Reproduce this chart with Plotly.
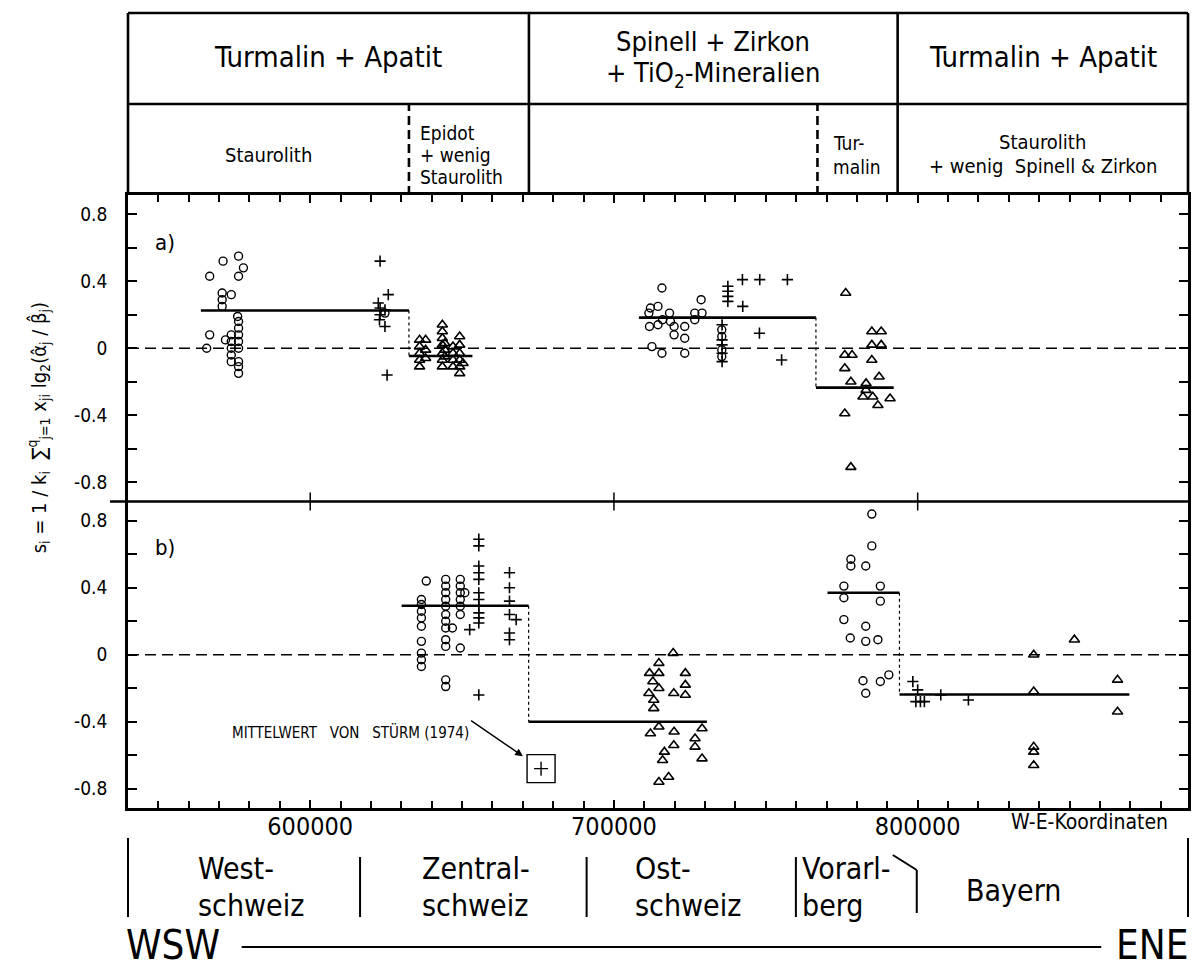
import plotly.graph_objects as go

# ---------------- data ----------------
X_RANGE = [540000, 889000]
Y_LIM = 0.915

# panel a
a_circ_x = [565900, 566900, 566900, 571300, 576400, 578000, 576400, 571000, 574000, 571000, 571000,
            576100, 576400, 576400, 576400, 574000, 572100, 576400, 574000, 574000, 576400, 574000,
            574000, 576400, 576400, 576400, 624600,
            715800, 728700, 712000, 714500, 711500, 718300, 726600, 729000, 716000, 718600, 726600,
            711700, 714500, 719800, 723300, 719800, 723300, 712500, 715800, 723300, 735500, 735500,
            735500, 735500]
a_circ_y = [0.00, 0.08, 0.43, 0.52, 0.55, 0.48, 0.43, 0.33, 0.32, 0.29, 0.25,
            0.19, 0.16, 0.12, 0.08, 0.08, 0.05, 0.04, 0.04, 0.00, 0.00, -0.04,
            -0.08, -0.08, -0.11, -0.15, 0.21,
            0.36, 0.29, 0.24, 0.25, 0.21, 0.21, 0.21, 0.21, 0.17, 0.16, 0.17,
            0.13, 0.14, 0.13, 0.13, 0.08, 0.06, 0.01, -0.03, -0.03, 0.11, 0.07,
            -0.01, -0.05]

a_plus_x = [623000, 625700, 622400, 623000, 624600, 623000, 622800, 624600, 625300,
            737500, 737500, 737500, 737500, 742300, 748000, 757100, 742400, 747900, 755200,
            735600, 735600, 735600, 735600, 735600]
a_plus_y = [0.52, 0.32, 0.27, 0.24, 0.23, 0.20, 0.17, 0.13, -0.16,
            0.37, 0.34, 0.31, 0.28, 0.41, 0.41, 0.41, 0.25, 0.09, -0.07,
            0.14, 0.05, 0.02, -0.03, -0.08]

a_tri_x = [636000, 636000, 636000, 636000, 636000,
           638000, 638000, 638000,
           643500, 643500, 643500, 643500, 643500, 643500, 643500,
           644300, 644300, 644300,
           647000, 647000, 647000, 647000,
           649200, 649200, 649200, 649200, 649200, 649200,
           650300,
           776300, 776000, 778400, 776000, 778000, 776000, 778000, 784900, 788000, 784900,
           788000, 784900, 787300, 783000, 783000, 782000, 785200, 786900, 790900]
a_tri_y = [0.05, 0.01, -0.03, -0.07, -0.11,
           0.05, -0.01, -0.06,
           0.14, 0.10, 0.06, 0.02, -0.03, -0.07, -0.11,
           0.03, -0.01, -0.05,
           0.01, -0.03, -0.07, -0.11,
           0.07, 0.02, -0.03, -0.07, -0.11, -0.15,
           -0.09,
           0.33, -0.04, -0.04, -0.12, -0.20, -0.39, -0.71, 0.10, 0.10, 0.02,
           0.02, -0.07, -0.17, -0.21, -0.25, -0.29, -0.29, -0.34, -0.30]

# mean segments panel a: start, end, value
a_mean_x0 = [564000, 632500, 708200, 766500]
a_mean_x1 = [632500, 653400, 766500, 792100]
a_mean_v = [0.225, -0.046, 0.183, -0.235]

# panel b
b_circ_x = [638200,
            636600, 636600, 636600, 636600, 636600, 636600, 636600, 636600, 636600,
            644600, 644600, 644600, 644600, 644600, 644600, 644600, 644600, 644600, 644600,
            644600, 644600,
            646800,
            649400, 649400, 649400, 649400, 649400, 649400,
            650900, 649400,
            784900, 784900, 778000, 778000, 782900, 775700, 775700, 787700, 787700, 775700,
            782900, 777800, 782900, 786900, 782000, 782900, 787700, 790500]
b_circ_y = [0.44,
            0.33, 0.30, 0.26, 0.22, 0.17, 0.08, 0.01, -0.03, -0.07,
            0.45, 0.41, 0.37, 0.33, 0.29, 0.24, 0.20, 0.16, 0.09, 0.05,
            -0.15, -0.19,
            0.16,
            0.45, 0.41, 0.37, 0.33, 0.29, 0.24,
            0.37, 0.04,
            0.84, 0.65, 0.57, 0.53, 0.53, 0.41, 0.34, 0.41, 0.32, 0.21,
            0.17, 0.10, 0.08, 0.09, -0.155, -0.23, -0.16, -0.12]

b_plus_x = [655500, 655500, 655500, 655500, 655500, 655500, 655500, 655500, 655500, 655500,
            655500, 655500,
            652500,
            665600, 665600, 665600, 665600, 665600, 665600,
            667800,
            798400, 800000, 800900, 799400, 802200, 807600, 816700]
b_plus_y = [0.69, 0.65, 0.53, 0.49, 0.45, 0.37, 0.33, 0.29, 0.25, 0.22,
            0.19, -0.24,
            0.15,
            0.49, 0.40, 0.32, 0.24, 0.13, 0.09,
            0.21,
            -0.16, -0.21, -0.28, -0.28, -0.28, -0.24, -0.27]

b_tri_x = [719500, 714800, 711700, 714800, 723500, 712800, 723500, 711500, 714800, 719700,
           723500, 713100, 713100, 712000, 714800, 719800, 729000, 726700, 726700, 719700,
           716600, 716000, 729000, 714800, 718000,
           838200, 851600, 838200, 865800, 865800, 838200, 838200, 838200]
b_tri_y = [0.01, -0.05, -0.11, -0.11, -0.11, -0.16, -0.18, -0.23, -0.20, -0.23,
           -0.24, -0.27, -0.32, -0.47, -0.43, -0.46, -0.44, -0.50, -0.55, -0.54,
           -0.58, -0.63, -0.62, -0.76, -0.73,
           0.00, 0.09, -0.22, -0.15, -0.34, -0.55, -0.58, -0.66]

b_mean_x0 = [630100, 671900, 770300, 794000]
b_mean_x1 = [671900, 730600, 794000, 869700]
b_mean_v = [0.293, -0.40, 0.37, -0.237]

sturm_x = [676000]
sturm_y = [-0.68]

x_tick_vals = [600000, 700000, 800000]
x_tick_text = ["600000", "700000", "800000"]
y_tick_vals = [-0.8, -0.4, 0, 0.4, 0.8]
y_tick_text = ["-0.8", "-0.4", "0", "0.4", "0.8"]

# header divisions (W-E coordinates)
top_dividers = [672000, 793400]
mid_dashed_dividers = [632500, 767000]
region_lines = [616400, 691000, 759900]

# ---------------- layout helpers ----------------
W, H = 1194, 967
L, R, T, B = 128, 1191, 195, 808
FONT = "DejaVu Sans Condensed, DejaVu Sans, sans-serif"


def py(p):
    return (B - p) / (B - T)


def pxp(p):
    return (p - L) / (R - L)


fig = go.Figure()


def pts(xs, ys, symbol, size, xa, ya, lw=1.4):
    fig.add_trace(go.Scatter(x=xs, y=ys, mode="markers", xaxis=xa, yaxis=ya,
                             marker=dict(symbol=symbol, size=size, color="black",
                                         line=dict(color="black", width=lw)),
                             showlegend=False, hoverinfo="skip"))


def means(x0s, x1s, vs, xa, ya):
    for a, b, v in zip(x0s, x1s, vs):
        fig.add_trace(go.Scatter(x=[a, b], y=[v, v], mode="lines", xaxis=xa, yaxis=ya,
                                 line=dict(color="black", width=2.6),
                                 showlegend=False, hoverinfo="skip"))
    for i in range(len(vs) - 1):
        if abs(x1s[i] - x0s[i + 1]) < 1:
            fig.add_trace(go.Scatter(x=[x1s[i], x1s[i]], y=[vs[i], vs[i + 1]], mode="lines",
                                     xaxis=xa, yaxis=ya,
                                     line=dict(color="black", width=1.2, dash="dot"),
                                     showlegend=False, hoverinfo="skip"))


for ya in ["y", "y2"]:
    fig.add_shape(type="line", xref="paper", x0=0, x1=1, yref=ya, y0=0, y1=0,
                  line=dict(color="black", width=1.4, dash="11px,6px"))

means(a_mean_x0, a_mean_x1, a_mean_v, "x2", "y")
means(b_mean_x0, b_mean_x1, b_mean_v, "x", "y2")

pts(a_circ_x, a_circ_y, "circle-open", 8, "x2", "y")
pts(a_plus_x, a_plus_y, "cross-thin-open", 8, "x2", "y", 1.6)
pts(a_tri_x, a_tri_y, "triangle-up-open", 9, "x2", "y", 1.6)
pts(b_circ_x, b_circ_y, "circle-open", 8, "x", "y2")
pts(b_plus_x, b_plus_y, "cross-thin-open", 8, "x", "y2", 1.6)
pts(b_tri_x, b_tri_y, "triangle-up-open", 9, "x", "y2", 1.6)
pts(sturm_x, sturm_y, "square-open", 28, "x", "y2", 1.4)
pts(sturm_x, sturm_y, "cross-thin-open", 10, "x", "y2", 1.4)

minor_x = dict(tickmode="linear", tick0=0, dtick=10000, ticks="inside", ticklen=7,
               tickwidth=1.5, tickcolor="black", showgrid=False)
axis_common = dict(range=X_RANGE, showline=True, linewidth=2.6, linecolor="black",
                   ticks="inside", ticklen=8, tickwidth=1.5, tickcolor="black",
                   showgrid=False, zeroline=False, tickmode="array", tickvals=x_tick_vals,
                   minor=minor_x)
minor_y = dict(tickmode="linear", tick0=0, dtick=0.2, ticks="inside", ticklen=9,
               tickwidth=1.5, tickcolor="black", showgrid=False)
yax_common = dict(range=[-Y_LIM, Y_LIM], showline=True, linewidth=2.6, linecolor="black",
                  mirror="ticks", ticks="inside", ticklen=9, tickwidth=1.5, tickcolor="black",
                  tickmode="array", tickvals=y_tick_vals, ticktext=y_tick_text,
                  tickfont=dict(size=19, family=FONT), ticklabelstandoff=14,
                  showgrid=False, zeroline=False, minor=minor_y)

fig.update_layout(
    width=W, height=H,
    margin=dict(l=L, r=W - R, t=T, b=H - B),
    paper_bgcolor="white", plot_bgcolor="white",
    font=dict(family=FONT, color="black"),
    xaxis=dict(anchor="y2", ticktext=x_tick_text, ticklabelstandoff=-6,
               tickfont=dict(size=25, family=FONT), **axis_common),
    xaxis2=dict(anchor="y", side="top", showticklabels=False, **axis_common),
    yaxis=dict(domain=[0.5, 1], **yax_common),
    yaxis2=dict(domain=[0, 0.5], **yax_common),
)

LINE = dict(color="black", width=2.6)

# separator between panels
fig.add_shape(type="line", xref="paper", yref="paper", x0=pxp(110), x1=1, y0=0.5, y1=0.5, line=LINE)
for v in x_tick_vals:
    fig.add_shape(type="line", xref="x", yref="paper", x0=v, x1=v, y0=0.5 - 9 / 613,
                  y1=0.5 + 9 / 613, line=dict(color="black", width=1.5))

# header box
y_top, y_mid = py(13), py(104)
fig.add_shape(type="line", xref="paper", yref="paper", x0=0, x1=1, y0=y_top, y1=y_top, line=LINE)
fig.add_shape(type="line", xref="paper", yref="paper", x0=0, x1=1, y0=y_mid, y1=y_mid, line=LINE)
fig.add_shape(type="line", xref="paper", yref="paper", x0=0, x1=0, y0=1, y1=y_top, line=LINE)
fig.add_shape(type="line", xref="paper", yref="paper", x0=1, x1=1, y0=1, y1=y_top, line=LINE)
for v in top_dividers:
    fig.add_shape(type="line", xref="x", yref="paper", x0=v, x1=v, y0=1, y1=y_top, line=LINE)
for v in mid_dashed_dividers:
    fig.add_shape(type="line", xref="x", yref="paper", x0=v, x1=v, y0=1, y1=y_mid,
                  line=dict(color="black", width=2.6, dash="9px,5px"))


def ann(text, x, y, size, xref="x", yref="paper", xanchor="center", yanchor="middle", **kw):
    fig.add_annotation(text=text, x=x, y=y, xref=xref, yref=yref, showarrow=False,
                       xanchor=xanchor, yanchor=yanchor,
                       font=dict(size=size, family=kw.pop("family", FONT), color="black"), **kw)


hx0, hx1 = X_RANGE
c1 = (hx0 + top_dividers[0]) / 2
c2 = (top_dividers[0] + top_dividers[1]) / 2
c3 = (top_dividers[1] + hx1) / 2
ann("Turmalin + Apatit", c1, py(57), 29)
ann("Spinell + Zirkon", c2, py(41), 27)
ann("+ TiO<sub>2</sub>-Mineralien", c2, py(74), 27)
ann("Turmalin + Apatit", c3, py(57), 29)

ann("Staurolith", (hx0 + mid_dashed_dividers[0]) / 2, py(155), 20)
ann("Epidot", 635400, py(133), 19, xanchor="left")
ann("+ wenig", 635400, py(155), 19, xanchor="left")
ann("Staurolith", 635400, py(177), 19, xanchor="left")
ann("Tur-", 771500, py(143), 19, xanchor="left")
ann("malin", 771500, py(167), 19, xanchor="left")
ann("Staurolith", c3, py(142), 20)
ann("+ wenig  Spinell & Zirkon", c3, py(166), 20)

ann("a)", pxp(153), py(242), 22, xref="paper", xanchor="left")
ann("b)", pxp(153), py(547), 22, xref="paper", xanchor="left")

fig.add_annotation(text="MITTELWERT&nbsp;&nbsp;&nbsp;VON&nbsp;&nbsp;&nbsp;STÜRM (1974)", x=sturm_x[0], y=sturm_y[0],
                   xref="x", yref="y2", showarrow=True, ax=-70, ay=-48, axref="pixel", ayref="pixel",
                   xanchor="right", yanchor="top", standoff=22, arrowhead=2, arrowsize=1.1,
                   arrowwidth=1.4, arrowcolor="black",
                   font=dict(size=15, family=FONT, color="black"))

ann("s<sub>i</sub> = 1 / k<sub>i</sub>  ∑<sup>q</sup><sub>j=1</sub> x<sub>ji</sub> lg<sub>2</sub>(α̂<sub>j</sub> / β̂<sub>j</sub>)",
    pxp(38), py(428), 20, xref="paper", textangle=-90)

ann("W-E-Koordinaten", pxp(1173), py(822), 21, xref="paper", xanchor="right")


def vline_paper(xp, p0, p1, xref="paper"):
    fig.add_shape(type="line", xref=xref, yref="paper", x0=xp, x1=xp, y0=py(p0), y1=py(p1),
                  line=dict(color="black", width=2))


vline_paper(0, 838, 917)
vline_paper(1, 838, 917)
for v in region_lines:
    vline_paper(v, 857, 917, xref="x")
fig.add_shape(type="line", xref="paper", yref="paper", x0=pxp(895), x1=pxp(919), y0=py(855), y1=py(870),
              line=dict(color="black", width=2))
fig.add_shape(type="line", xref="paper", yref="paper", x0=pxp(919), x1=pxp(919), y0=py(870), y1=py(913),
              line=dict(color="black", width=2))

RS = 30
ann("West-", pxp(196), py(868), RS, xref="paper", xanchor="left")
ann("schweiz", pxp(196), py(905), RS, xref="paper", xanchor="left")
ann("Zentral-", pxp(421), py(868), RS, xref="paper", xanchor="left")
ann("schweiz", pxp(421), py(905), RS, xref="paper", xanchor="left")
ann("Ost-", pxp(634), py(868), RS, xref="paper", xanchor="left")
ann("schweiz", pxp(634), py(905), RS, xref="paper", xanchor="left")
ann("Vorarl-", pxp(802), py(868), RS, xref="paper", xanchor="left")
ann("berg", pxp(802), py(905), RS, xref="paper", xanchor="left")
ann("Bayern", pxp(966), py(890), RS, xref="paper", xanchor="left")

ann("WSW", pxp(124), py(945), 40, xref="paper", xanchor="left")
ann("ENE", pxp(1193), py(945), 40, xref="paper", xanchor="right")
fig.add_shape(type="line", xref="paper", yref="paper", x0=pxp(242), x1=pxp(1104), y0=py(947), y1=py(947),
              line=dict(color="black", width=2))

fig.write_html("out.html", config={"displayModeBar": False},
               post_script="document.body.style.margin='0px';")
